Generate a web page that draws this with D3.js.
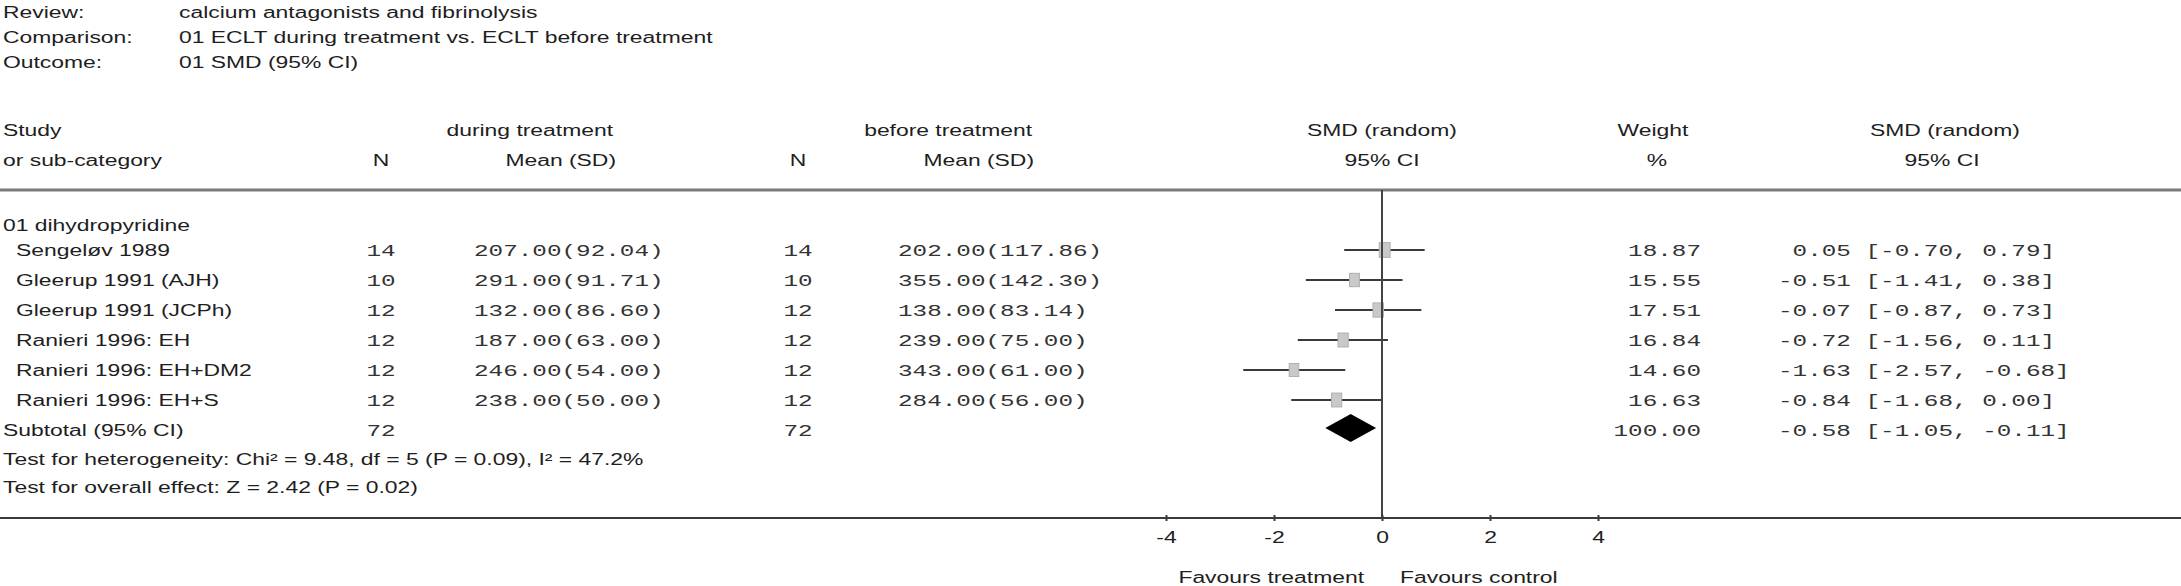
<!DOCTYPE html>
<html>
<head>
<meta charset="utf-8">
<script src="https://cdn.jsdelivr.net/npm/d3@7"></script>
<style>
  body { margin: 0; background: #fff; }
  text { white-space: pre; }
</style>
</head>
<body>
<svg id="chart" width="2181" height="586"></svg>
<script>
// Data
var studies = ["Sengeløv 1989", "Gleerup 1991 (AJH)", "Gleerup 1991 (JCPh)",
  "Ranieri 1996: EH", "Ranieri 1996: EH+DM2", "Ranieri 1996: EH+S"];
var nTreat = [14, 10, 12, 12, 12, 12];
var meanTreat = [207, 291, 132, 187, 246, 238];
var sdTreat = [92.04, 91.71, 86.60, 63.00, 54.00, 50.00];
var nCtrl = [14, 10, 12, 12, 12, 12];
var meanCtrl = [202, 355, 138, 239, 343, 284];
var sdCtrl = [117.86, 142.30, 83.14, 75.00, 61.00, 56.00];
var weights = [18.87, 15.55, 17.51, 16.84, 14.60, 16.63];
var smd = [0.05, -0.51, -0.07, -0.72, -1.63, -0.84];
var ciLow = [-0.70, -1.41, -0.87, -1.56, -2.57, -1.68];
var ciHigh = [0.79, 0.38, 0.73, 0.11, -0.68, 0.00];
var pooled = [-0.58, -1.05, -0.11];   // estimate, low, high
var pooledN = [72, 72];
var pooledWeight = 100;
var xTicks = [-4, -2, 0, 2, 4];

var headerLabels = ["Review:", "Comparison:", "Outcome:"];
var headerValues = ["calcium antagonists and fibrinolysis",
  "01 ECLT during treatment vs. ECLT before treatment", "01 SMD (95% CI)"];
var groupLabel = "01 dihydropyridine";
var hetText = "Test for heterogeneity: Chi² = 9.48, df = 5 (P = 0.09), I² = 47.2%";
var overallText = "Test for overall effect: Z = 2.42 (P = 0.02)";

// the original picture is stretched sideways, so all text is too
var SX = 1.43;
var W = 2181, H = 586;
var sans = "'Liberation Sans', Arial, sans-serif";
var mono = "'Liberation Mono', 'Courier New', monospace";

var svg = d3.select("#chart");

function label(x, y, str, opts) {
  opts = opts || {};
  return svg.append("text")
    .attr("transform", `translate(${x},${y}) scale(${SX},1)`)
    .attr("dy", "0.36em")
    .attr("text-anchor", opts.anchor || "start")
    .style("font-family", opts.mono ? mono : sans)
    .style("font-size", opts.mono ? "17px" : "16px")
    .style("fill", opts.mono ? "#333" : "#1e1e1e")
    .text(str);
}

function pad(s, n) {
  while (s.length < n) s = " " + s;
  return s;
}

function ciText(e, l, h) {
  return pad(e.toFixed(2), 5) + " [" + l.toFixed(2) + ", " + h.toFixed(2) + "]";
}

// Scales
var x = d3.scaleLinear().domain([-4, 4]).range([1166, 1598]);
var y = d3.scaleLinear().domain([0, 6]).range([250, 430]);

// Title block
headerLabels.forEach(function(t, i) {
  label(3, 12 + 25 * i, t);
  label(179, 12 + 25 * i, headerValues[i]);
});

// Column headers
label(3, 130, "Study");
label(3, 160, "or sub-category");
label(381, 160, "N", {anchor: "middle"});
label(613, 130, "during treatment", {anchor: "end"});
label(616, 160, "Mean (SD)", {anchor: "end"});
label(798, 160, "N", {anchor: "middle"});
label(1032, 130, "before treatment", {anchor: "end"});
label(1034, 160, "Mean (SD)", {anchor: "end"});
label(1382, 130, "SMD (random)", {anchor: "middle"});
label(1382, 160, "95% CI", {anchor: "middle"});
label(1653, 130, "Weight", {anchor: "middle"});
label(1657, 160, "%", {anchor: "middle"});
label(1945, 130, "SMD (random)", {anchor: "middle"});
label(1942, 160, "95% CI", {anchor: "middle"});

svg.append("line")
  .attr("x1", 0).attr("x2", W).attr("y1", 190).attr("y2", 190)
  .attr("stroke", "#7a7a7a").attr("stroke-width", 3);

// Study rows
label(3, 225, groupLabel);
studies.forEach(function(s, i) {
  var yy = y(i);
  label(16, yy, s);
  label(381, yy, String(nTreat[i]), {mono: true, anchor: "middle"});
  label(474, yy, meanTreat[i].toFixed(2) + "(" + sdTreat[i].toFixed(2) + ")", {mono: true});
  label(798, yy, String(nCtrl[i]), {mono: true, anchor: "middle"});
  label(898, yy, meanCtrl[i].toFixed(2) + "(" + sdCtrl[i].toFixed(2) + ")", {mono: true});
  label(1701, yy, weights[i].toFixed(2), {mono: true, anchor: "end"});
  label(1778, yy, ciText(smd[i], ciLow[i], ciHigh[i]), {mono: true});
});

// Subtotal and tests
label(3, y(6), "Subtotal (95% CI)");
label(381, y(6), String(pooledN[0]), {mono: true, anchor: "middle"});
label(798, y(6), String(pooledN[1]), {mono: true, anchor: "middle"});
label(1701, y(6), pooledWeight.toFixed(2), {mono: true, anchor: "end"});
label(1778, y(6), ciText(pooled[0], pooled[1], pooled[2]), {mono: true});
label(3, 459, hetText);
label(3, 487, overallText);

// Forest plot
var plot = svg.append("g");

plot.selectAll("line.ci")
  .data(studies)
  .enter()
  .append("line")
  .attr("class", "ci")
  .attr("x1", (d, i) => x(ciLow[i]))
  .attr("x2", (d, i) => x(ciHigh[i]))
  .attr("y1", (d, i) => y(i))
  .attr("y2", (d, i) => y(i))
  .attr("stroke", "#3a3a3a")
  .attr("stroke-width", 2);

plot.selectAll("rect.box")
  .data(studies)
  .enter()
  .append("rect")
  .attr("class", "box")
  .attr("x", (d, i) => x(smd[i]) - 1.25 * Math.sqrt(weights[i]))
  .attr("y", (d, i) => y(i) - 1.7 * Math.sqrt(weights[i]))
  .attr("width", (d, i) => 2.5 * Math.sqrt(weights[i]))
  .attr("height", (d, i) => 3.4 * Math.sqrt(weights[i]))
  .attr("fill", "#c9c9c9")
  .attr("stroke", "#b0b0b0")
  .attr("stroke-width", 1);

var yd = 428;
plot.append("path")
  .attr("d", "M" + x(pooled[1]) + "," + yd +
    "L" + x(pooled[0]) + "," + (yd - 14) +
    "L" + x(pooled[2]) + "," + yd +
    "L" + x(pooled[0]) + "," + (yd + 14) + "Z")
  .attr("fill", "#000");

plot.append("line")
  .attr("x1", x(0)).attr("x2", x(0)).attr("y1", 190).attr("y2", 518)
  .attr("stroke", "#444").attr("stroke-width", 2);

// Axis
svg.append("line")
  .attr("x1", 0).attr("x2", W).attr("y1", 518).attr("y2", 518)
  .attr("stroke", "#3a3a3a").attr("stroke-width", 2);

var axis = svg.append("g")
  .attr("transform", "translate(0,518)")
  .call(d3.axisBottom(x).tickValues(xTicks).tickSize(3).tickFormat(d3.format("d")));
axis.select(".domain").remove();
axis.selectAll(".tick line").attr("y1", -3).attr("stroke", "#3a3a3a").attr("stroke-width", 2);
axis.selectAll(".tick text")
  .attr("y", 19)
  .attr("dy", "0.36em")
  .attr("transform", `scale(${SX},1)`)
  .style("font-family", sans)
  .style("font-size", "16px")
  .style("fill", "#1e1e1e")
  .text(d => d < 0 ? "-" + Math.abs(d) : d);

label(1364, 577, "Favours treatment", {anchor: "end"});
label(1400, 577, "Favours control");
</script>
</body>
</html>
